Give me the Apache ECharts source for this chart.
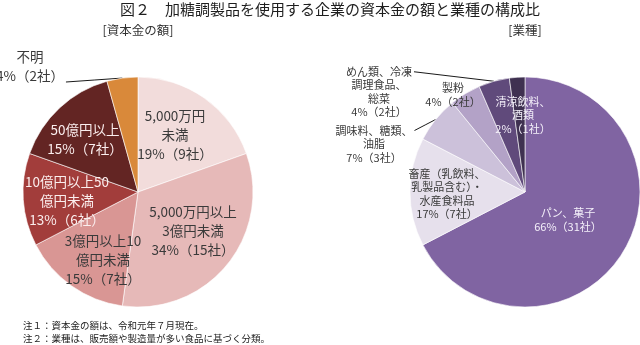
<!DOCTYPE html>
<html>
<head>
<meta charset="utf-8">
<script src="https://cdn.jsdelivr.net/npm/echarts@6/dist/echarts.min.js"></script>
<style>
html,body{margin:0;padding:0;background:#fff;}
#chart{width:640px;height:345px;}
</style>
</head>
<body>
<div id="chart"></div>
<script>
// ---- data ----
const capitalCategories = ['5,000万円未満', '5,000万円以上3億円未満', '3億円以上10億円未満', '10億円以上50億円未満', '50億円以上', '不明'];
const capitalLabelNames = ['5,000万円\n未満', '5,000万円以上\n3億円未満', '3億円以上10\n億円未満', '10億円以上50\n億円未満', '50億円以上', '不明'];
const capitalCompanies = [9, 15, 7, 6, 7, 2];
const capitalShares = [19, 34, 15, 13, 15, 4];

const industryCategories = ['パン、菓子', '畜産（乳飲料、乳製品含む）・水産食料品', '調味料、糖類、油脂', '製粉', 'めん類、冷凍調理食品、総菜', '清涼飲料、酒類'];
const industryLabelNames = ['パン、菓子', '畜産（乳飲料、\n乳製品含む）・\n水産食料品', '調味料、糖類、\n油脂', '製粉', 'めん類、冷凍\n調理食品、\n総菜', '清涼飲料、\n酒類'];
const industryCompanies = [31, 7, 3, 2, 2, 1];
const industryShares = [66, 17, 7, 4, 4, 2];

const mainTitle = '図２　加糖調製品を使用する企業の資本金の額と業種の構成比';
const leftHeading = '[資本金の額]';
const rightHeading = '[業種]';
const notes = ['注１：資本金の額は、令和元年７月現在。', '注２：業種は、販売額や製造量が多い食品に基づく分類。'];

// ---- styling / layout ----
const FONT = '"Noto Sans CJK JP", "Noto Sans", sans-serif';
const capitalColors = ['#F2DCDB', '#E6B9B8', '#D99694', '#A23D3B', '#632523', '#D9893A'];
const industryColors = ['#8064A2', '#E6E0EC', '#CCC1DA', '#B3A2C7', '#604A7B', '#3F3151'];
const DARK = '#3a3a3a';
const LIGHT = '#fbeeee';
const capitalTextColors = [DARK, DARK, DARK, LIGHT, LIGHT, DARK];
const industryTextColors = ['#f4f0fa', DARK, DARK, DARK, DARK, '#f4f0fa'];
const capitalLeader = [false, false, false, false, false, 'lastLine'];
const industryLeader = [false, false, 'firstLine', false, 'firstLine', false];
const capitalLabelPos = [[175, 135], [193, 231], [103, 260], [67, 201], [85, 139], [30, 66]];
const industryLabelPos = [[568, 220], [447, 194], [374, 144], [453, 95], [379, 92], [523, 115]];
const LEFT_FS = 13.5, LEFT_LH = 19;
const RIGHT_FS = 11, RIGHT_LH = 13.5;

function buildData(cats, names, counts, shares, colors, textColors, leaders) {
  return cats.map((c, i) => ({
    name: c,
    value: counts[i],
    labelText: names[i] + '\n' + shares[i] + '%（' + counts[i] + '社）',
    itemStyle: { color: colors[i] },
    label: { position: leaders[i] ? 'outside' : 'inside', color: textColors[i] },
    labelLine: { show: !!leaders[i] }
  }));
}

const posBySeries = [capitalLabelPos, industryLabelPos];
const leaderBySeries = [capitalLeader, industryLeader];
const lhBySeries = [LEFT_LH, RIGHT_LH];

function layoutLabel(params) {
  const s = params.seriesIndex, i = params.dataIndex;
  const p = posBySeries[s][i];
  const res = { x: p[0], y: p[1], align: 'center', verticalAlign: 'middle' };
  const mode = leaderBySeries[s][i];
  if (mode && params.labelLinePoints && params.labelLinePoints.length) {
    const w = params.labelRect.width, h = params.labelRect.height;
    const lh = lhBySeries[s];
    const sx = p[0] + w / 2 + 2;
    const sy = mode === 'firstLine' ? p[1] - h / 2 + lh / 2 : p[1] + h / 2 - 3;
    const end = params.labelLinePoints[0];
    res.labelLinePoints = [[sx, sy], [(sx + end[0]) / 2, (sy + end[1]) / 2], [end[0], end[1]]];
  }
  return res;
}

const chart = echarts.init(document.getElementById('chart'), null, { renderer: 'canvas' });
chart.setOption({
  animation: false,
  backgroundColor: '#ffffff',
  graphic: [
    { type: 'text', x: 120, y: 9, style: { text: mainTitle, fontSize: 15, fontFamily: FONT, fill: '#1e1e1e', align: 'left', verticalAlign: 'middle' } },
    { type: 'text', x: 138, y: 30, style: { text: leftHeading, fontSize: 12.5, fontFamily: FONT, fill: '#333', align: 'center', verticalAlign: 'middle' } },
    { type: 'text', x: 525, y: 30, style: { text: rightHeading, fontSize: 12.5, fontFamily: FONT, fill: '#333', align: 'center', verticalAlign: 'middle' } },
    { type: 'text', x: 23, y: 325, style: { text: notes[0], fontSize: 9.5, fontFamily: FONT, fill: '#222', align: 'left', verticalAlign: 'middle' } },
    { type: 'text', x: 23, y: 338, style: { text: notes[1], fontSize: 9.5, fontFamily: FONT, fill: '#222', align: 'left', verticalAlign: 'middle' } }
  ],
  series: [
    {
      type: 'pie',
      center: [138, 192],
      radius: [0, 115],
      startAngle: 90,
      clockwise: true,
      avoidLabelOverlap: false,
      silent: true,
      itemStyle: { borderColor: '#ffffff', borderWidth: 0.6 },
      label: {
        show: true,
        fontSize: LEFT_FS,
        lineHeight: LEFT_LH,
        fontFamily: FONT,
        align: 'center',
        formatter: (p) => p.data.labelText
      },
      labelLine: { show: false, length: 10, length2: 10, lineStyle: { color: '#1a1a1a', width: 1 } },
      labelLayout: layoutLabel,
      data: buildData(capitalCategories, capitalLabelNames, capitalCompanies, capitalShares, capitalColors, capitalTextColors, capitalLeader)
    },
    {
      type: 'pie',
      center: [525, 192],
      radius: [0, 115],
      startAngle: 90,
      clockwise: true,
      avoidLabelOverlap: false,
      silent: true,
      itemStyle: { borderColor: '#ffffff', borderWidth: 0.6 },
      label: {
        show: true,
        fontSize: RIGHT_FS,
        lineHeight: RIGHT_LH,
        fontFamily: FONT,
        align: 'center',
        formatter: (p) => p.data.labelText
      },
      labelLine: { show: false, length: 10, length2: 10, lineStyle: { color: '#1a1a1a', width: 1 } },
      labelLayout: layoutLabel,
      data: buildData(industryCategories, industryLabelNames, industryCompanies, industryShares, industryColors, industryTextColors, industryLeader)
    }
  ]
});
</script>
</body>
</html>
